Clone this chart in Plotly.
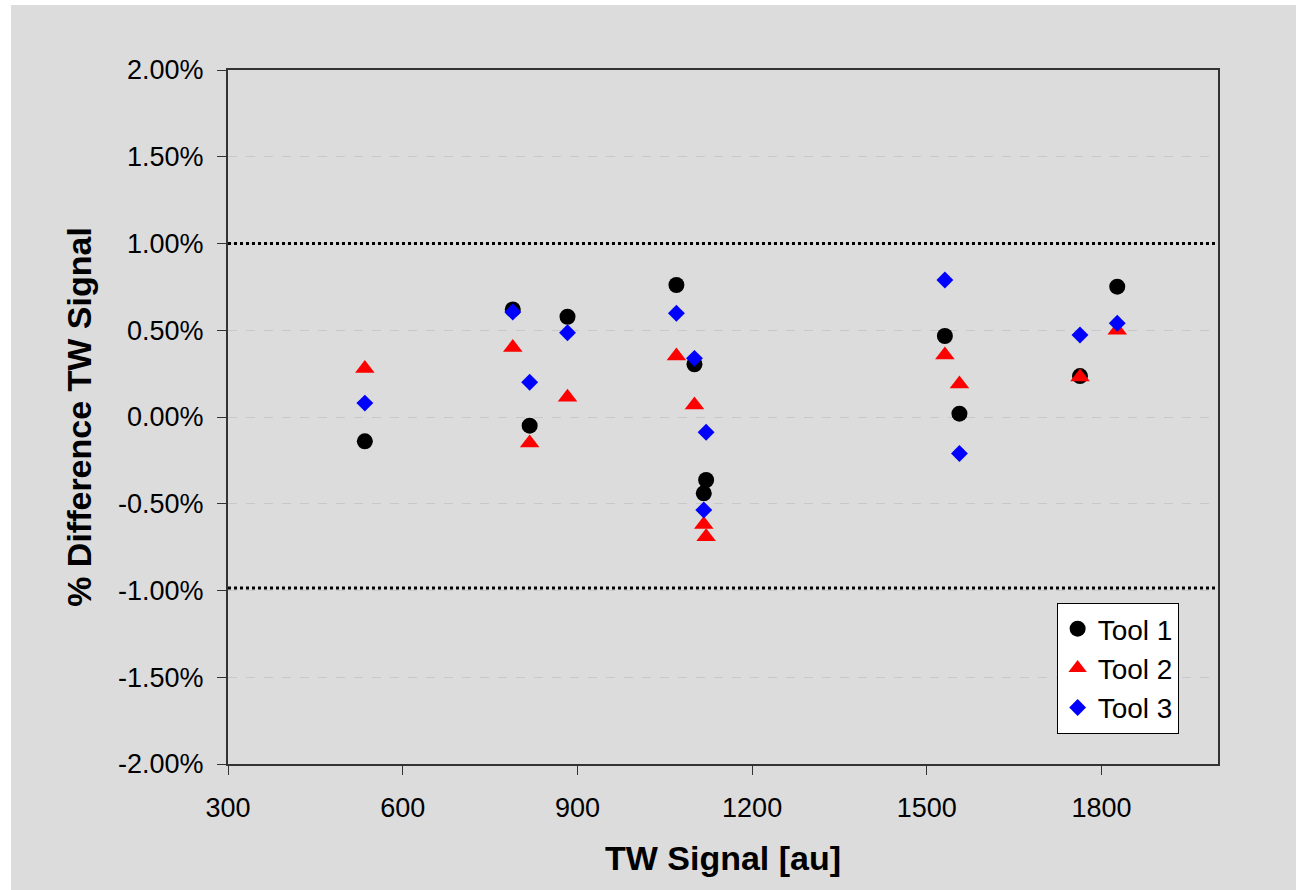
import plotly.graph_objects as go

# ---- data (x = TW signal [au], y = % difference) ----
tool1_x = [535, 789, 818, 883, 1070, 1101, 1121, 1117, 1531, 1556, 1763, 1827]
tool1_y = [-0.14, 0.62, -0.05, 0.578, 0.761, 0.304, -0.363, -0.44, 0.467, 0.019, 0.236, 0.751]

tool2_x = [535, 789, 818, 883, 1070, 1101, 1121, 1117, 1531, 1556, 1763, 1827]
tool2_y = [0.28, 0.40, -0.15, 0.114, 0.352, 0.069, -0.69, -0.62, 0.357, 0.19, 0.23, 0.50]

tool3_x = [535, 789, 818, 883, 1070, 1101, 1121, 1117, 1531, 1556, 1763, 1827]
tool3_y = [0.08, 0.605, 0.20, 0.486, 0.598, 0.338, -0.088, -0.536, 0.79, -0.21, 0.473, 0.54]

x_ticks = [300, 600, 900, 1200, 1500, 1800]
y_ticks = [-2.0, -1.5, -1.0, -0.5, 0.0, 0.5, 1.0, 1.5, 2.0]
y_ticktext = ["-2.00%", "-1.50%", "-1.00%", "-0.50%", "0.00%", "0.50%", "1.00%", "1.50%", "2.00%"]
limit_upper = 1.0
limit_lower = -0.985

FONT = "Liberation Sans, Arial, sans-serif"

fig = go.Figure()
fig.add_trace(go.Scatter(x=tool1_x, y=tool1_y, mode="markers", name="Tool 1",
                         marker=dict(symbol="circle", size=16, color="black")))
fig.add_trace(go.Scatter(x=tool2_x, y=tool2_y, mode="markers", name="Tool 2",
                         marker=dict(symbol="triangle-up", size=17, color="#FF0000")))
fig.add_trace(go.Scatter(x=tool3_x, y=tool3_y, mode="markers", name="Tool 3",
                         marker=dict(symbol="diamond", size=13, color="#0000FF")))

shapes = [
    # grey outer panel
    dict(type="rect", xref="paper", yref="paper", x0=-0.2192, x1=1.2, y0=-0.3, y1=1.0937,
         fillcolor="#DCDCDC", line=dict(width=0), layer="below"),
    dict(type="line", xref="paper", yref="y", x0=0, x1=1, y0=limit_upper, y1=limit_upper,
         line=dict(color="black", width=3, dash="dot")),
    dict(type="line", xref="paper", yref="y", x0=0, x1=1, y0=limit_lower, y1=limit_lower,
         line=dict(color="black", width=3, dash="dot")),
]

fig.update_layout(
    width=1296, height=890,
    margin=dict(l=228, r=78, t=70, b=126),
    paper_bgcolor="white",
    plot_bgcolor="white",
    font=dict(family=FONT, size=27, color="black"),
    shapes=shapes,
    showlegend=True,
    legend=dict(x=0.837, y=0.232, xanchor="left", yanchor="top",
                bgcolor="white", bordercolor="black", borderwidth=1,
                font=dict(family=FONT, size=28, color="black"),
                itemsizing="trace"),
    xaxis=dict(
        range=[300, 2000], tickvals=x_ticks, ticks="outside", ticklen=9, tickwidth=1,
        tickcolor="#333", showgrid=False, zeroline=False,
        showline=True, linecolor="#333", linewidth=2, mirror=True,
        tickfont=dict(size=27), ticklabelstandoff=10,
        title=dict(text="<b>TW Signal [au]</b>", font=dict(size=34), standoff=24),
    ),
    yaxis=dict(
        range=[-2.0, 2.0], tickvals=y_ticks, ticktext=y_ticktext,
        ticks="outside", ticklen=9, tickwidth=1, tickcolor="#333",
        ticklabelstandoff=8,
        showgrid=True, gridcolor="#C8C8C8", griddash="dash", gridwidth=1,
        zeroline=False,
        showline=True, linecolor="#333", linewidth=2, mirror=True,
        tickfont=dict(size=27),
        title=dict(text="<b>% Difference TW Signal</b>", font=dict(size=34), standoff=16),
    ),
)

fig.write_html("out.html")
